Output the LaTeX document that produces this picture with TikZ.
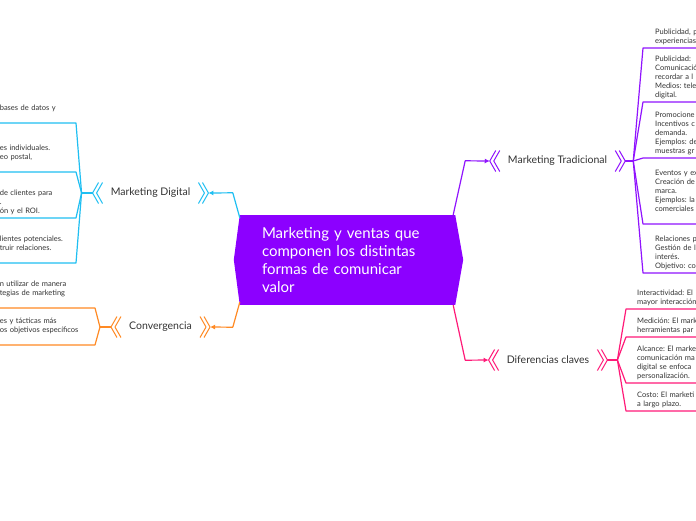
\documentclass[tikz,border=0pt]{standalone}
\usepackage{fontspec}
\setmainfont{Lato}
\usetikzlibrary{arrows.meta,calc}
\definecolor{hubViolet}{HTML}{8C00FF}
\definecolor{tradViolet}{HTML}{9013FE}
\definecolor{digCyan}{HTML}{1FBFF2}
\definecolor{convOrange}{HTML}{FF8A24}
\definecolor{difPink}{HTML}{FF1A78}
\definecolor{ink}{HTML}{333333}
\frenchspacing

% double angle marks on both sides of a branch label
\newcommand{\chevrons}[2]{%
  \draw[#2, link, line width=1pt]
    ([shift={(6pt,10.5pt)}]#1.west) -- (#1.west) -- ([shift={(6pt,-10.5pt)}]#1.west)
    ([shift={(10pt,10.5pt)}]#1.west) -- ([shift={(4pt,0pt)}]#1.west) -- ([shift={(10pt,-10.5pt)}]#1.west)
    ([shift={(-6pt,10.5pt)}]#1.east) -- (#1.east) -- ([shift={(-6pt,-10.5pt)}]#1.east)
    ([shift={(-10pt,10.5pt)}]#1.east) -- ([shift={(-4pt,0pt)}]#1.east) -- ([shift={(-10pt,-10.5pt)}]#1.east);}

\begin{document}
\begin{tikzpicture}[x=1pt, y=-1pt,
  hub/.style={fill=hubViolet, text=white, minimum width=215pt, minimum height=90pt, text width=171pt, inner xsep=22pt, align=left, font=\fontsize{15}{18}\selectfont},
  branch/.style={text=ink, font=\fontsize{10.5}{12}\selectfont, inner xsep=18pt, minimum height=21pt},
  leafL/.style={anchor=south east, text width=#1, inner xsep=0pt, inner ysep=3pt, align=left, text=ink, font=\fontsize{7.5}{9}\selectfont},
  leafL/.default=76pt,
  leafR/.style={anchor=south west, text width=80pt, inner xsep=#1, inner ysep=3pt, align=left, text=ink, font=\fontsize{7.5}{9}\selectfont},
  leafR/.default=12pt,
  link/.style={line width=1.2pt, line join=round},
  arr/.style={link, -{Latex[length=5pt,width=5pt]}}
]
\useasboundingbox[fill=white] (0,0) rectangle (696,520);

% Central topic
\node[hub] (hub) at (347.5,260) {Marketing y ventas que\\componen los distintas\\formas de comunicar\\valor};
\fill[hubViolet] (hub.north west) -- ++(-6,45) -- (hub.south west) -- cycle;
\fill[hubViolet] (hub.north east) -- ++(8,45) -- (hub.south east) -- cycle;

% Branches
\node[branch] (dig) at (150.5,193) {Marketing Digital};
\node[branch] (conv) at (160.5,327) {Convergencia};
\node[branch] (trad) at (557.5,161) {Marketing Tradicional};
\node[branch] (dif) at (548,360) {Diferencias claves};
\chevrons{dig}{digCyan}
\chevrons{conv}{convOrange}
\chevrons{trad}{tradViolet}
\chevrons{dif}{difPink}

% Arrows from the centre
\draw[arr, digCyan] ([yshift=-3pt]hub.north west) -- ++(-7,-25) -- (dig.east);
\draw[arr, convOrange] ([yshift=3pt]hub.south west) -- ++(-7,25) -- (conv.east);
\draw[arr, tradViolet] ([xshift=-2pt]hub.north east) -- ++(12,-54) -- (trad.west);
\draw[arr, difPink] ([xshift=-2pt]hub.south east) -- ++(12,55) -- (dif.west);

% Marketing Digital leaves
\node[leafL] (dig1) at (76,123) {bases de datos y\\\mbox{}};
\node[leafL] (dig2) at (76,172) {es individuales.\\eo postal,\\\mbox{}};
\node[leafL] (dig3) at (76,218) {de clientes para\\.\\ón y el ROI.};
\node[leafL] (dig4) at (76,263) {lientes potenciales.\\truir relaciones.\\\mbox{}};
\draw[link, digCyan] (dig.west) -- ++(-11,0) coordinate (digJ);
\foreach \n in {dig1,dig2,dig3,dig4}
  \draw[link, digCyan] (digJ) -- (\n.south east) -- ++(-80,0);

% Convergencia leaves
\node[leafL=95pt] (conv1) at (95,308) {n utilizar de manera\\tegias de marketing\\\mbox{}};
\node[leafL=95pt] (conv2) at (95,345) {es y tácticas más\\os objetivos específicos\\\mbox{}};
\draw[link, convOrange] (conv.west) -- ++(-11,0) coordinate (convJ);
\foreach \n in {conv1,conv2}
  \draw[link, convOrange] (convJ) -- (\n.south east) -- ++(-100,0);

% Marketing Tradicional leaves
\node[leafR] (trad1) at (643,48) {Publicidad, p\\experiencias};
\node[leafR] (trad2) at (643,102) {Publicidad:\\Comunicació\\recordar a l\\Medios: tele\\digital.};
\node[leafR] (trad3) at (643,158) {Promocione\\Incentivos c\\demanda.\\Ejemplos: de\\muestras gr};
\node[leafR] (trad4) at (643,224) {Eventos y ex\\Creación de\\marca.\\Ejemplos: la\\comerciales\\\mbox{}};
\node[leafR] (trad5) at (643,273) {Relaciones p\\Gestión de l\\interés.\\Objetivo: co};
\draw[link, tradViolet] (trad.east) -- ++(8,0) coordinate (tradJ);
\foreach \n in {trad1,trad2,trad3,trad4,trad5}
  \draw[link, tradViolet] (tradJ) -- (\n.south west) -- (\n.south east);

% Diferencias claves leaves
\node[leafR=11pt] (dif1) at (626,309) {Interactividad: El\\mayor interacción};
\node[leafR=11pt] (dif2) at (626,337) {Medición: El mark\\herramientas par};
\node[leafR=11pt] (dif3) at (626,383) {Alcance: El marke\\comunicación ma\\digital se enfoca\\personalización.};
\node[leafR=11pt] (dif4) at (626,411) {Costo: El marketi\\a largo plazo.};
\draw[link, difPink] (dif.east) -- ++(10,0) coordinate (difJ);
\foreach \n in {dif1,dif2,dif3,dif4}
  \draw[link, difPink] (difJ) -- (\n.south west) -- (\n.south east);
\end{tikzpicture}
\end{document}
